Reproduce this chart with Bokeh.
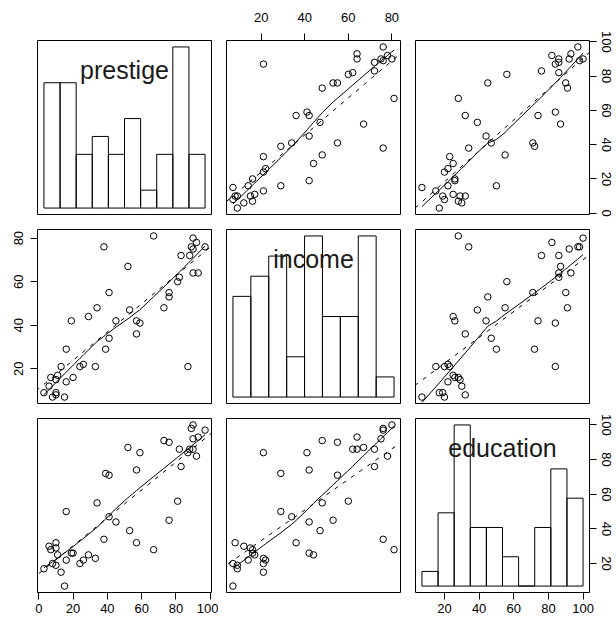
import numpy as np
from bokeh.plotting import figure
from bokeh.layouts import gridplot
from bokeh.models import Range1d, LinearAxis, FixedTicker, Label, Slope
from bokeh.embed import file_html
from bokeh.resources import INLINE

# Duncan occupational prestige data (45 occupations)
prestige = [82, 83, 90, 76, 90, 87, 93, 90, 52, 88, 57, 89, 97, 59, 73,
            38, 76, 81, 45, 92, 39, 34, 41, 16, 33, 53, 67, 57, 26, 29,
            10, 15, 19, 10, 13, 24, 20, 7, 3, 16, 6, 11, 8, 41, 10]
income = [62, 72, 75, 55, 64, 21, 64, 80, 67, 72, 42, 76, 76, 41, 48,
          76, 53, 60, 42, 78, 29, 48, 55, 29, 21, 47, 81, 36, 22, 44,
          15, 7, 42, 9, 21, 21, 16, 16, 9, 14, 12, 17, 7, 34, 8]
education = [86, 76, 92, 90, 86, 84, 93, 100, 87, 86, 74, 98, 97, 84, 91,
             34, 45, 56, 44, 82, 72, 55, 71, 50, 23, 39, 28, 32, 22, 25,
             29, 7, 26, 19, 15, 20, 26, 28, 17, 22, 30, 25, 20, 47, 32]

var_names = ["prestige", "income", "education"]
tick_values = {
    "prestige": [0, 20, 40, 60, 80, 100],
    "income": [20, 40, 60, 80],
    "education": [20, 40, 60, 80, 100],
}
hist_breaks = {
    "prestige": [0, 10, 20, 30, 40, 50, 60, 70, 80, 90, 100],
    "income": [0, 10, 20, 30, 40, 50, 60, 70, 80, 90],
    "education": [0, 10, 20, 30, 40, 50, 60, 70, 80, 90, 100],
}

data = {"prestige": np.array(prestige, float),
        "income": np.array(income, float),
        "education": np.array(education, float)}

FONT = "Liberation Sans"
FRAME = 174
# borders per column (left, right) and per row (top, bottom)
col_borders = [(37, 7), (8, 7), (8, 27)]
row_borders = [(40, 7), (8, 7), (8, 27)]


def padded(lo, hi, frac=0.04):
    d = (hi - lo) * frac
    return lo - d, hi + d


def hist_counts(x, breaks):
    # right-closed bins, first bin includes its left edge
    counts = []
    for k in range(len(breaks) - 1):
        a, b = breaks[k], breaks[k + 1]
        if k == 0:
            c = np.sum((x >= a) & (x <= b))
        else:
            c = np.sum((x > a) & (x <= b))
        counts.append(int(c))
    return counts


def lowess(x, y, f=2.0 / 3.0, iters=3):
    order = np.argsort(x, kind="stable")
    xs, ys = x[order], y[order]
    n = len(xs)
    ns = max(2, min(n, int(f * n + 1e-7)))
    rob = np.ones(n)
    fit = np.zeros(n)
    rng = xs[-1] - xs[0]
    for it in range(iters + 1):
        for i in range(n):
            d = np.abs(xs - xs[i])
            h = np.sort(d)[ns - 1]
            if h > 0:
                r = d / h
                w = np.where(d <= 0.999 * h, (1 - r ** 3) ** 3, 0.0)
                w = np.where(d <= 0.001 * h, 1.0, w)
            else:
                w = (d == 0).astype(float)
            w = w * rob
            sw = w.sum()
            if sw <= 0:
                fit[i] = ys[i]
                continue
            w = w / sw
            a = np.sum(w * xs)
            b = np.sum(w * (xs - a) ** 2)
            if np.sqrt(b) > 0.001 * rng:
                slope = np.sum(w * (xs - a) * ys) / b
                fit[i] = np.sum(w * ys) + slope * (xs[i] - a)
            else:
                fit[i] = np.sum(w * ys)
        if it == iters:
            break
        res = ys - fit
        cmad = 6 * np.median(np.abs(res))
        if cmad < 1e-7 * np.mean(np.abs(res)):
            break
        rr = np.abs(res)
        rob = np.where(rr <= 0.999 * cmad, (1 - (rr / cmad) ** 2) ** 2, 0.0)
        rob = np.where(rr <= 0.001 * cmad, 1.0, rob)
    return xs, fit


def style_axis(ax, ticks, vertical=False):
    ax.ticker = FixedTicker(ticks=ticks)
    ax.axis_line_color = None
    ax.major_tick_line_color = "black"
    ax.major_tick_out = 7
    ax.major_tick_in = 0
    ax.minor_tick_line_color = None
    ax.major_label_text_font = FONT
    ax.major_label_text_font_size = "13px"
    ax.major_label_text_color = "black"
    if vertical:
        ax.major_label_orientation = "vertical"


ranges = {v: padded(data[v].min(), data[v].max()) for v in var_names}

rows = []
for i, yv in enumerate(var_names):
    row = []
    for j, xv in enumerate(var_names):
        bl, br = col_borders[j]
        bt, bb = row_borders[i]
        p = figure(width=bl + FRAME + br, height=bt + FRAME + bb,
                   x_range=Range1d(*ranges[xv]), y_range=Range1d(*ranges[yv]),
                   x_axis_location=None, y_axis_location=None,
                   min_border_left=bl, min_border_right=br,
                   min_border_top=bt, min_border_bottom=bb,
                   output_backend="svg", toolbar_location=None)
        p.outline_line_color = "black"
        p.outline_line_width = 1
        p.background_fill_color = "white"
        p.border_fill_color = "white"
        p.grid.grid_line_color = None

        if i == j:
            x = data[xv]
            br_ = hist_breaks[xv]
            counts = hist_counts(x, br_)
            hx = padded(br_[0], br_[-1])
            hy = padded(0, max(counts))
            p.extra_x_ranges = {"hx": Range1d(*hx)}
            p.extra_y_ranges = {"hy": Range1d(*hy)}
            p.quad(left=br_[:-1], right=br_[1:], bottom=0, top=counts,
                   fill_color=None, line_color="black", line_width=1,
                   x_range_name="hx", y_range_name="hy")
            lab_y = hy[1] - 29.0 / FRAME * (hy[1] - hy[0])
            p.add_layout(Label(x=(hx[0] + hx[1]) / 2, y=lab_y, text=xv,
                               x_range_name="hx", y_range_name="hy",
                               text_align="center", text_baseline="alphabetic",
                               text_font=FONT, text_font_size="25px",
                               text_color="#1a1a1a"))
        else:
            x = data[xv]
            y = data[yv]
            slope, intercept = np.polyfit(x, y, 1)
            p.add_layout(Slope(gradient=slope, y_intercept=intercept,
                               line_color="black", line_width=1,
                               line_dash="4 6"))
            lx, ly = lowess(x, y)
            p.line(lx, ly, line_color="black", line_width=1)
            p.scatter(x, y, marker="circle", size=6.5, fill_color=None,
                      line_color="black", line_width=1)

        # outer axes alternate between sides, as in a pairs plot
        if i == 0 and j % 2 == 1:
            ax = LinearAxis()
            style_axis(ax, tick_values[xv])
            ax.major_label_standoff = 12
            p.add_layout(ax, "above")
        if i == 2 and j % 2 == 0:
            ax = LinearAxis()
            style_axis(ax, tick_values[xv])
            ax.major_label_standoff = 4
            p.add_layout(ax, "below")
        if j == 0 and i % 2 == 1:
            ax = LinearAxis()
            style_axis(ax, tick_values[yv], vertical=True)
            ax.major_label_standoff = 7
            p.add_layout(ax, "left")
        if j == 2 and i % 2 == 0:
            ax = LinearAxis()
            style_axis(ax, tick_values[yv], vertical=True)
            ax.major_label_standoff = 5
            p.add_layout(ax, "right")
        row.append(p)
    rows.append(row)

grid = gridplot(rows, toolbar_location=None)
open("out.html", "w").write(file_html(grid, INLINE))
